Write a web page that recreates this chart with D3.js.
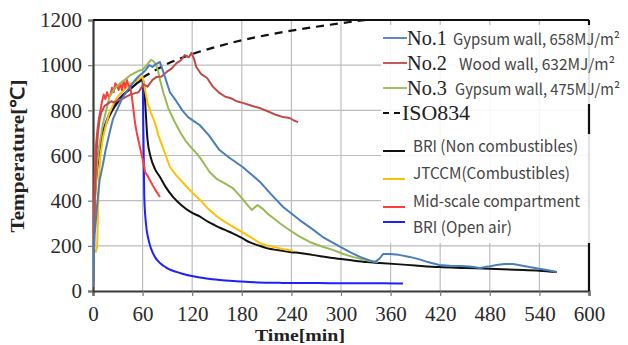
<!DOCTYPE html>
<html><head><meta charset="utf-8">
<script src="https://cdn.jsdelivr.net/npm/d3@7"></script>
<style>body{margin:0;background:#fff}svg{display:block}</style>
</head><body>
<svg id="c" width="628" height="345"></svg>
<script>
// ---- data ----
const xTicks = [0,60,120,180,240,300,360,420,480,540,600];
const yTicks = [0,200,400,600,800,1000,1200];

const no1T = [0,2,5,8,12,15,20,24,30,35,40,45,50,55,60,64,68,72,76,81,87,93,100,108,115,122,129,140,153,165,181,192,202,215,230,240,250,265,278,290,302,312,323,333,341,347,351,359,370,383,395,405,419,432,444,456,468,478,488,498,508,518,528,538,549,561];
const no1V = [20,250,380,490,560,620,700,760,810,850,880,905,930,950,965,980,1000,992,1005,1014,948,880,845,800,770,752,735,690,624,590,549,515,483,430,372,343,314,275,239,214,190,170,151,138,128,145,164,164,160,151,140,128,115,112,111,108,102,108,115,120,120,113,106,100,93,84];

const no2T = [0,2,4,6,8,10,14,18,22,26,30,35,40,45,50,55,61,66,72,77,83,89,95,101,106,111,116,119,122,125,131,138,145,153,160,166,174,182,192,202,212,222,230,238,243,248];
const no2V = [20,400,600,700,760,790,820,830,840,835,845,850,860,870,875,880,915,905,935,948,950,970,985,1009,1020,1045,1035,1054,1030,992,960,943,905,877,860,855,840,832,820,810,795,779,770,766,755,748];

const no3T = [0,2,5,8,12,16,20,25,30,35,40,45,50,55,60,65,70,73,76,79,81,85,91,98,106,112,118,124,129,135,141,150,160,169,178,186,192,195,199,205,212,218,226,234,248,262,276,290,302,314,325,335,345];
const no3V = [20,380,560,650,740,800,860,890,910,925,940,955,965,975,980,1000,1023,1018,1005,970,935,880,810,755,700,665,638,615,593,560,527,495,475,456,420,385,359,368,381,365,340,323,300,279,245,217,198,182,165,151,142,133,128];

const isoT = [60,75,90,105,120,150,180,210,240,270,300,330];
const isoV = [945,977,1006,1029,1049,1082,1110,1133,1153,1170,1186,1200];

const briT = [0,1,2,4,6,8,10,14,18,22,26,30,35,40,45,50,55,58,60,62,64,66,70,75,81,88,97,107,118,129,140,147,155,163,169,180,190,200,210,225,240,250,265,290,310,331,347,367,390,419,450,480,510,540,561];
const briV = [20,250,380,500,570,620,660,720,760,790,815,835,860,880,895,910,925,935,940,900,780,668,590,540,505,460,416,380,350,330,305,292,278,265,255,235,215,202,190,180,172,168,160,146,137,128,124,119,113,106,102,98,94,90,84];

const jtT = [3,5,7,9,12,16,20,25,30,35,40,45,50,55,58,60,63,66,70,75,79,83,87,93,100,106,115,123,131,139,150,160,170,181,192,202,212,222,232,242];
const jtV = [170,195,480,600,680,740,790,830,860,880,900,915,925,935,945,948,890,832,790,744,690,650,611,549,515,491,455,425,398,365,330,305,283,260,235,212,200,192,184,178];

const midT = [0,1,2,3,5,7,9,11,13,15,17,19,21,23,25,27,29,31,33,35,37,39,41,43,45,47,49,51,53,56,59,61,63,66,70,75,81];
const midV = [20,300,500,620,700,760,800,840,870,850,880,860,868,900,880,920,910,890,920,890,930,900,934,910,903,860,800,740,700,650,600,570,527,510,483,450,416];

const openT = [0,1,2,4,6,8,10,14,18,22,26,30,35,40,45,50,55,58,60,61,62,64,67,70,75,81,88,95,105,115,129,145,160,178,200,226,250,274,300,330,350,375];
const openV = [20,280,420,530,600,640,680,730,770,800,825,845,865,880,895,910,925,930,935,700,420,300,230,190,150,124,105,92,80,70,60,52,46,42,38,36,35,35,34,34,34,33];

const legendNames = ["No.1","No.2","No.3","ISO834","BRI (Non combustibles)","JTCCM(Combustibles)","Mid-scale compartment","BRI (Open air)"];
const legendSubs = ["Gypsum wall, 658MJ/m\u00B2","Wood wall, 632MJ/m\u00B2","Gypsum wall, 475MJ/m\u00B2"];

// ---- layout ----
const svg = d3.select("#c");
const L = 93, R = 589, T = 20, B = 291;
const x = d3.scaleLinear().domain([0,600]).range([L,R]);
const y = d3.scaleLinear().domain([0,1200]).range([B,T]);
const serif = "'Liberation Serif', 'Times New Roman', serif";
const sans = "'Noto Sans CJK JP', 'Noto Sans', sans-serif";

// grid
svg.append("g").selectAll("line").data(xTicks.slice(1,-1)).join("line")
  .attr("x1",d=>x(d)).attr("x2",d=>x(d)).attr("y1",T).attr("y2",B)
  .attr("stroke","#bdbdbd").attr("stroke-width",1.2);
svg.append("g").selectAll("line").data(yTicks.slice(1,-1)).join("line")
  .attr("x1",L).attr("x2",R).attr("y1",d=>y(d)).attr("y2",d=>y(d))
  .attr("stroke","#bdbdbd").attr("stroke-width",1.2);

// axes with d3 axis
const fmt = d3.format("d");
const xAxis = svg.append("g").attr("transform",`translate(0,${B})`)
  .call(d3.axisBottom(x).tickValues(xTicks).tickFormat(fmt).tickSize(5).tickPadding(10));
xAxis.attr("font-family",null).attr("font-size",null);
xAxis.select(".domain").attr("stroke","#3a3a3a").attr("stroke-width",2.2);
xAxis.selectAll(".tick line").attr("stroke","#777").attr("stroke-width",1.2);
xAxis.selectAll(".tick text").style("font-family",serif).style("font-size","21px").attr("fill","#2a2a2a");

const yAxis = svg.append("g").attr("transform",`translate(${L},0)`)
  .call(d3.axisLeft(y).tickValues(yTicks).tickFormat(fmt).tickSize(5).tickPadding(6));
yAxis.attr("font-family",null).attr("font-size",null);
yAxis.select(".domain").attr("stroke","#3a3a3a").attr("stroke-width",2.2);
yAxis.selectAll(".tick line").attr("stroke","#777").attr("stroke-width",1.2);
yAxis.selectAll(".tick text").style("font-family",serif).style("font-size","21px").attr("fill","#2a2a2a");

// top & right frame
svg.append("line").attr("x1",L).attr("x2",R).attr("y1",T).attr("y2",T).attr("stroke","#111").attr("stroke-width",2.2);
svg.append("line").attr("x1",R).attr("x2",R).attr("y1",T).attr("y2",B).attr("stroke","#111").attr("stroke-width",2.2);

// clip
svg.append("clipPath").attr("id","pc").append("rect").attr("x",L).attr("y",T).attr("width",R-L).attr("height",B-T);
const plot = svg.append("g").attr("clip-path","url(#pc)");

function draw(ts, vs, color, w, dash, curve){
  const pts = ts.map((t,i)=>[t,vs[i]]);
  const line = d3.line().x(d=>x(d[0])).y(d=>y(d[1])).curve(curve||d3.curveLinear);
  plot.append("path").attr("d",line(pts)).attr("fill","none").attr("stroke",color)
    .attr("stroke-width",w).attr("stroke-linejoin","round").attr("stroke-dasharray",dash||null);
}
const cNo1="#4a7ebb", cNo2="#be4b48", cNo3="#98b954", cJT="#ffc000", cMid="#ff3b3b", cOpen="#1f1fff";
draw(isoT, isoV, "#111", 2.2, "8,6", d3.curveMonotoneX);
draw(openT, openV, cOpen, 2, null, d3.curveMonotoneX);
draw(briT, briV, "#111", 2, null, d3.curveMonotoneX);
draw(jtT, jtV, cJT, 2, null);
draw(midT, midV, cMid, 2, null);
draw(no3T, no3V, cNo3, 2, null);
draw(no2T, no2V, cNo2, 2, null);
draw(no1T, no1V, cNo1, 2, null);

// legend
svg.append("rect").attr("x",381).attr("y",25).attr("width",247).attr("height",218).attr("fill","#fff").attr("opacity",0.88);
svg.append("line").attr("x1",R).attr("x2",R).attr("y1",104).attr("y2",134).attr("stroke","#111").attr("stroke-width",2.2);

const lg = svg.append("g");
const big = [
  {ly:38, by:45, c:cNo1, sx:453, sw:167},
  {ly:63, by:70, c:cNo2, sx:459, sw:156},
  {ly:88, by:95, c:cNo3, sx:455, sw:165}
];
big.forEach((d,i)=>{
  lg.append("line").attr("x1",383).attr("x2",407).attr("y1",d.ly).attr("y2",d.ly).attr("stroke",d.c).attr("stroke-width",1.8);
  lg.append("text").attr("x",407).attr("y",d.by).style("font-family",serif).style("font-size","22px").attr("fill","#222")
    .attr("textLength",40).attr("lengthAdjust","spacingAndGlyphs").text(legendNames[i]);
  lg.append("text").attr("x",d.sx).attr("y",d.by).style("font-family",sans).style("font-size","15.5px").attr("fill","#444")
    .attr("textLength",d.sw).attr("lengthAdjust","spacingAndGlyphs").text(legendSubs[i]);
});
lg.append("line").attr("x1",383).attr("x2",405).attr("y1",113).attr("y2",113).attr("stroke","#111").attr("stroke-width",2.2).attr("stroke-dasharray","6,5");
lg.append("text").attr("x",402).attr("y",120).style("font-family",serif).style("font-size","22px").attr("fill","#222")
  .attr("textLength",68).attr("lengthAdjust","spacingAndGlyphs").text(legendNames[3]);
const small = [
  {ly:151, by:152, c:"#111", w:165},
  {ly:179, by:179, c:cJT, w:157},
  {ly:207, by:207, c:cMid, w:167},
  {ly:222, by:233, c:cOpen, w:99}
];
small.forEach((d,i)=>{
  lg.append("line").attr("x1",383).attr("x2",405).attr("y1",d.ly).attr("y2",d.ly).attr("stroke",d.c).attr("stroke-width",2);
  lg.append("text").attr("x",413).attr("y",d.by).style("font-family",sans).style("font-size","16px").attr("fill","#444")
    .attr("textLength",d.w).attr("lengthAdjust","spacingAndGlyphs").text(legendNames[4+i]);
});

// axis titles
svg.append("text").attr("transform","translate(24,156) rotate(-90)").attr("text-anchor","middle")
  .style("font-family",serif).style("font-weight","bold").style("font-size","19px").attr("fill","#222")
  .attr("textLength",153).attr("lengthAdjust","spacingAndGlyphs").text("Temperature[\u2103]");
svg.append("text").attr("x",300).attr("y",341).attr("text-anchor","middle")
  .style("font-family",serif).style("font-weight","bold").style("font-size","16.5px").attr("fill","#222")
  .attr("textLength",90).attr("lengthAdjust","spacingAndGlyphs").text("Time[min]");
</script>
</body></html>
